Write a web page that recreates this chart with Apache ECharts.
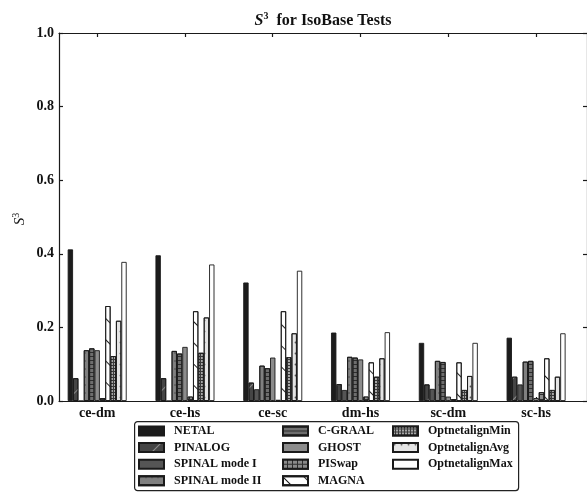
<!DOCTYPE html>
<html><head><meta charset="utf-8">
<script src="https://cdn.jsdelivr.net/npm/echarts@6/dist/echarts.min.js"></script>
<style>html,body{margin:0;padding:0;background:#fff}#c{width:587px;height:494px}</style>
</head><body><div id="c"></div>
<script>
var categories = ['ce-dm', 'ce-hs', 'ce-sc', 'dm-hs', 'sc-dm', 'sc-hs'];
var yTicks = [0, 0.2, 0.4, 0.6, 0.8, 1.0];
var netal        = [0.412, 0.396, 0.322, 0.186, 0.158, 0.172];
var pinalog      = [0.062, 0.062, 0.050, 0.046, 0.045, 0.066];
var spinal1      = [0.000, 0.000, 0.032, 0.030, 0.033, 0.045];
var spinal2      = [0.138, 0.136, 0.096, 0.120, 0.109, 0.107];
var cgraal       = [0.143, 0.129, 0.089, 0.118, 0.106, 0.109];
var ghost        = [0.138, 0.147, 0.118, 0.113, 0.012, 0.008];
var piswap       = [0.008, 0.012, 0.003, 0.012, 0.005, 0.024];
var magna        = [0.258, 0.244, 0.244, 0.105, 0.105, 0.116];
var optMin       = [0.122, 0.131, 0.119, 0.066, 0.030, 0.030];
var optAvg       = [0.218, 0.227, 0.184, 0.116, 0.068, 0.066];
var optMax       = [0.378, 0.371, 0.354, 0.187, 0.158, 0.184];

var seriesNames = ['NETAL','PINALOG','SPINAL mode I','SPINAL mode II','C-GRAAL','GHOST','PISwap','MAGNA','OptnetalignMin','OptnetalignAvg','OptnetalignMax'];
var seriesData = [netal, pinalog, spinal1, spinal2, cgraal, ghost, piswap, magna, optMin, optAvg, optMax];

var styles = [
  {color:'#1c1c1c'},
  {color:'#454545', decal:{symbol:'rect', symbolSize:1, color:'#8a8a8a', dashArrayX:[1,0], dashArrayY:[1,14], rotation:-Math.PI/4}},
  {color:'#555555'},
  {color:'#808080', decal:{symbol:'circle', symbolSize:0.7, color:'#3a3a3a', dashArrayX:[2,4], dashArrayY:[2,6]}},
  {color:'#6e6e6e', decal:{symbol:'rect', symbolSize:1, color:'#2e2e2e', dashArrayX:[1,0], dashArrayY:[1,3]}},
  {color:'#8c8c8c'},
  {color:'#2e2e2e', decal:{symbol:'rect', symbolSize:1, color:'#8a8a8a', dashArrayX:[4,1], dashArrayY:[4,1]}},
  {color:'#ffffff', decal:{symbol:'rect', symbolSize:1, color:'#222', dashArrayX:[1,0], dashArrayY:[1,14], rotation:Math.PI/4}},
  {color:'#3a3a3a', decal:{symbol:'circle', symbolSize:0.9, color:'#dddddd', dashArrayX:[2,1], dashArrayY:[2,1]}},
  {color:'#e4e4e4', decal:{symbol:'circle', symbolSize:0.6, color:'#555', dashArrayX:[3,4], dashArrayY:[3,8]}},
  {color:'#ffffff'}
];

var FONT = '"Liberation Serif", "DejaVu Serif", serif';
var series = seriesNames.map(function(n, k){
  var st = styles[k];
  return {
    name: n, type: 'bar', xAxisIndex: 0, yAxisIndex: 0,
    barGap: '0%', barCategoryGap: '32.8%',
    data: seriesData[k].map(function(v, i){ return [i, v]; }),
    itemStyle: Object.assign({borderColor:'#1a1a1a', borderWidth:0.9}, st),
    emphasis: {disabled: true},
    animation: false
  };
});

function legendBlock(names, left){
  return {
    data: names, orient: 'vertical', left: left, top: 424, height: 80, padding: 0,
    itemWidth: 25, itemHeight: 9, itemGap: 2.6,
    icon: 'rect',
    textStyle: {fontFamily: FONT, fontWeight: 'bold', fontSize: 12, color:'#111', lineHeight: 14, padding:[0,0,0,5]},
    selectedMode: false
  };
}

var axisLineStyle = {color:'#1a1a1a', width:1.2};
var chart = echarts.init(document.getElementById('c'), null, {renderer:'canvas'});
chart.setOption({
  backgroundColor: '#fff',
  animation: false,
  title: {
    text: '{i|S}{s|3}{b|  for IsoBase Tests}',
    left: 318, top: 6, textAlign: 'center',
    textStyle: {
      rich: {
        i: {fontFamily: FONT, fontStyle: 'italic', fontSize: 16, color:'#111'},
        s: {fontFamily: FONT, fontSize: 10, color:'#111', padding:[0,0,9,0]},
        b: {fontFamily: FONT, fontWeight: 'bold', fontSize: 16, color:'#111'}
      }
    }
  },
  grid: {left: 59, top: 33, width: 531, bottom: 93, containLabel: false},
  xAxis: [
    {type:'value', position:'bottom', min:-0.435, max:5.58,
     splitLine:{show:false},
     axisLine:{show:true, onZero:false, lineStyle:axisLineStyle},
     axisTick:{show:true, inside:true, length:4, customValues:[0,1,2,3,4,5], lineStyle:axisLineStyle},
     axisLabel:{customValues:[0,1,2,3,4,5], formatter:function(v){return categories[Math.round(v)];},
       fontFamily: FONT, fontWeight:'bold', fontSize:14, color:'#111', margin:5}},
    {type:'value', position:'top', min:-0.435, max:5.58,
     splitLine:{show:false},
     axisLine:{show:true, onZero:false, lineStyle:axisLineStyle},
     axisTick:{show:true, inside:true, length:4, customValues:[0,1,2,3,4,5], lineStyle:axisLineStyle},
     axisLabel:{show:false}}
  ],
  yAxis: [
    {type:'value', position:'left', min:0, max:1, interval:0.2,
     splitLine:{show:false},
     axisLine:{show:true, onZero:false, lineStyle:axisLineStyle},
     axisTick:{show:true, inside:true, length:4, lineStyle:axisLineStyle},
     axisLabel:{formatter:function(v){return v.toFixed(1);}, fontFamily: FONT, fontWeight:'bold', fontSize:14, color:'#111', margin:5}},
    {type:'value', position:'right', min:0, max:1, interval:0.2,
     splitLine:{show:false},
     axisLine:{show:true, onZero:false, lineStyle:axisLineStyle},
     axisTick:{show:true, inside:true, length:4, lineStyle:axisLineStyle},
     axisLabel:{show:false}}
  ],
  legend: [
    legendBlock(seriesNames.slice(0,4), 138),
    legendBlock(seriesNames.slice(4,8), 282),
    legendBlock(seriesNames.slice(8,11), 392)
  ],
  graphic: [{
    type:'rect', left:134, top:421, z:-1,
    shape:{width:384, height:69, r:3},
    style:{fill:'#fff', stroke:'#222', lineWidth:1.2}
  }, {
    type:'text', x:20, y:219, rotation:Math.PI/2,
    style:{
      text:'{i|S}{s|3}', align:'center', verticalAlign:'middle',
      rich:{
        i:{fontFamily: FONT, fontStyle:'italic', fontSize:15, fill:'#111'},
        s:{fontFamily: FONT, fontSize:10, fill:'#111', padding:[0,0,8,0]}
      }
    }
  }],
  series: series
});
</script>
</body></html>
